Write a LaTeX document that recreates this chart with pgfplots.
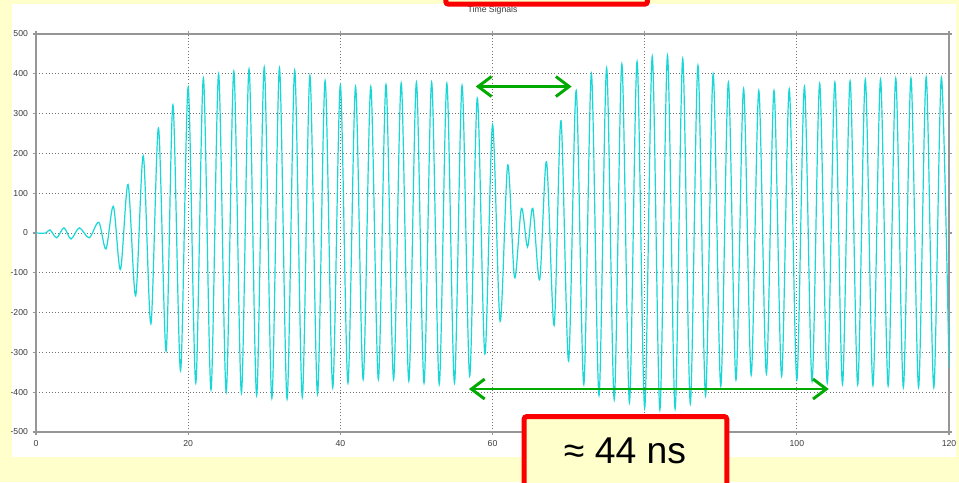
\documentclass[border=0pt]{standalone}
\usepackage{fontspec}
\setmainfont{Liberation Sans}
\usepackage{pgfplots}
\pgfplotsset{compat=1.18}
\usetikzlibrary{arrows.meta}
\definecolor{bgyellow}{RGB}{255,255,204}
\definecolor{sigcyan}{RGB}{25,215,215}
\definecolor{arrgreen}{RGB}{0,170,0}
\definecolor{boxred}{RGB}{250,0,0}
\definecolor{axgray}{RGB}{150,150,150}
\definecolor{gridgray}{RGB}{115,115,115}
\definecolor{labgray}{RGB}{60,60,60}
\pgfplotstableread{
x y
0 0
1.3 0
1.84 8
2.72 -12
3.68 13
4.6 -15
5.7 13
7.0 -12
8.25 27
9.2 -40
10.17 67
11.1 -92
12.1 122
13.1 -158
14.1 194
15.1 -228
16.1 264
17.1 -297
18 322
19 -346
20 366
21 -377
22 389
23 -394
24 400
25 -400
26 406
27 -402
28 412
29 -408
30 417
31 -415
32 415
33 -417
34 409
35 -413
36 396
37 -405
38 383
39 -389
40 372
41 -377
42 368
43 -368
44 368
45 -368
46 373
47 -368
48 377
49 -372
50 379
51 -377
52 379
53 -380
54 376
55 -377
56 371
57 -359
58 339
59 -304
60 272
61 -222
62 171
62.9 -112
63.8 62
64.6 -35
65.3 62
66.2 -117
67.1 179
68.1 -232
69 282
70 -322
71 358
72 -381
73 400
74 -408
75 415
76 -419
77 425
78 -426
79 431
80 -440
81 444
82 -444
83 446
84 -442
85 438
86 -429
87 421
88 -409
89 400
90 -385
91 379
92 -369
93 363
94 -357
95 358
96 -354
97 358
98 -360
99 362
100 -369
101 368
102 -373
103 376
104 -377
105 379
106 -380
107 382
108 -381
109 386
110 -383
111 386
112 -384
113 389
114 -388
115 389
116 -388
117 392
118 -388
119 391
120 -340
}\signal
\begin{document}
\begin{tikzpicture}
\useasboundingbox (-27pt,-37.5pt) rectangle (692.25pt,324pt);
\clip (-27pt,-37.5pt) rectangle (692.25pt,324pt);
\fill[bgyellow] (-27pt,-37.5pt) rectangle (692.25pt,324pt);
\fill[white] (-18pt,-18.75pt) rectangle (690pt,321pt);
\begin{axis}[
  at={(0pt,0pt)}, anchor=south west,
  scale only axis, width=684.75pt, height=298.5pt,
  xmin=0, xmax=120, ymin=-500, ymax=500,
  xtick={0,20,...,120}, ytick={-500,-400,...,500},
  grid=major, major grid style={gridgray, dotted, line width=0.6pt},
  axis line style={axgray, line width=1.2pt},
  tick style={axgray, line width=0.8pt},
  major tick length=2.5pt, tick align=outside,
  ticklabel style={font=\fontsize{6.5}{7}\selectfont, text=labgray},
  /pgf/number format/assume math mode=true,
  /pgf/number format/1000 sep={},
]
\addplot[sigcyan, line width=0.9pt, smooth] table {\signal};
\draw[arrgreen, line width=2.2pt, {Straight Barb[length=10pt,width=15pt]}-{Straight Barb[length=10pt,width=15pt]}] (axis cs:57.8,368) -- (axis cs:70.4,368);
\draw[arrgreen, line width=2.2pt, {Straight Barb[length=10pt,width=15pt]}-{Straight Barb[length=10pt,width=15pt]}] (axis cs:56.9,-392) -- (axis cs:104.2,-392);
\end{axis}
\node[font=\fontsize{6.5}{7}\selectfont, text=labgray] at (342.4pt,316pt) {Time Signals};
\node[font=\fontsize{6.5}{7}\selectfont, text=labgray, anchor=north] at (342.4pt,-16.5pt) {Time / ns};
\fill[bgyellow] (-27pt,-37.5pt) rectangle (692.25pt,-18.75pt);
\draw[boxred, line width=3.75pt, fill=bgyellow, rounded corners=2pt] (307.35pt,320.85pt) rectangle (458.6pt,345pt);
\draw[boxred, line width=3.75pt, fill=bgyellow, rounded corners=2pt] (366.1pt,11.6pt) rectangle (518.1pt,-60pt);
\node[font=\fontsize{28}{30}\selectfont, anchor=base, text=black] at (441.75pt,-23.5pt) {≈ 44 ns};
\end{tikzpicture}
\end{document}
